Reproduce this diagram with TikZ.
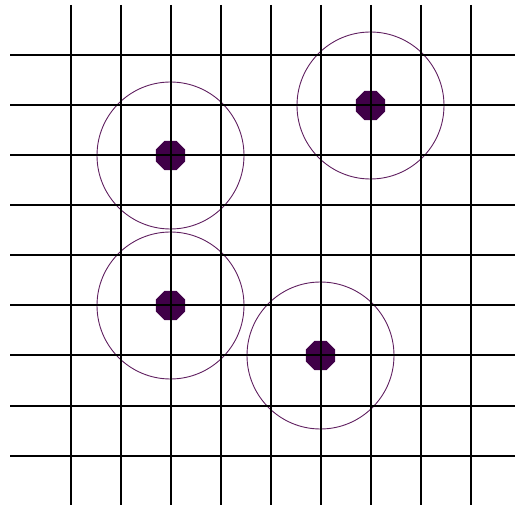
\documentclass[tikz,border=0pt]{standalone}
\usepackage{tikz}
\usetikzlibrary{shapes.geometric}

\definecolor{dotpurple}{RGB}{64,0,72}
\definecolor{ringpurple}{RGB}{96,32,96}

\begin{document}
\begin{tikzpicture}[
x=1pt, y=-1pt,
spot/.style={regular polygon, regular polygon sides=8, fill=dotpurple, inner sep=0pt, minimum size=31.5pt},
ring/.style={circle, draw=ringpurple, line width=0.9pt, inner sep=0pt, minimum size=147pt},
gridline/.style={black, line width=2pt}
]
\useasboundingbox (0,0) rectangle (515,508);
% dots and their rings
\node[spot] (dotA) at (170.5,155.5) {};
\node[spot] (dotB) at (370.5,105.5) {};
\node[spot] (dotC) at (170.5,305.5) {};
\node[spot] (dotD) at (320.5,355.5) {};
\node[ring] (ringA) at (dotA) {};
\node[ring] (ringB) at (dotB) {};
\node[ring] (ringC) at (dotC) {};
\node[ring] (ringD) at (dotD) {};
% grid
\foreach \k in {0,...,8} {
  \draw[gridline] (70.5+50*\k,5) -- (70.5+50*\k,505);
  \draw[gridline] (10,55.5+50*\k) -- (515,55.5+50*\k);
}
\end{tikzpicture}
\end{document}
